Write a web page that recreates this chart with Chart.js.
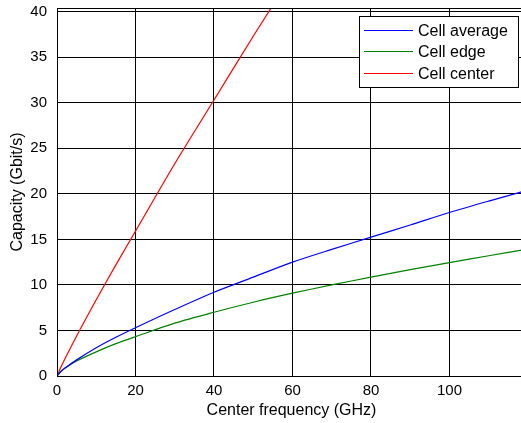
<!DOCTYPE html>
<html>
<head>
<meta charset="utf-8">
<script src="https://cdn.jsdelivr.net/npm/chart.js@4.4.1/dist/chart.umd.min.js"></script>
<style>
  html, body { margin: 0; padding: 0; background: #fff; overflow: hidden; }
  #wrap { width: 530px; height: 423px; position: relative; }
</style>
</head>
<body>
<div id="wrap"><canvas id="capacityChart"></canvas></div>
<script>
// values
const freqGHz     = [0, 1, 2, 5, 10, 15, 20, 30, 40, 50, 60, 70, 80, 90, 100, 110, 120];
const cellAverage = [0, 0.49, 0.86, 1.77, 3.1, 4.25, 5.3, 7.3, 9.2, 10.85, 12.5, 13.9, 15.24, 16.58, 17.95, 19.2, 20.4];
const cellEdge    = [0, 0.54, 0.87, 1.65, 2.65, 3.55, 4.32, 5.8, 7.0, 8.1, 9.09, 10.0, 10.85, 11.67, 12.45, 13.2, 13.95];
const cellCenter  = [0, 0.98, 1.87, 4.4, 8.37, 12.2, 15.9, 23.3, 30.3, 37.3, 44.1, null, null, null, null, null, null];
const seriesLabels = ["Cell average", "Cell edge", "Cell center"];
const seriesColors = ["#0000ff", "#008000", "#ff0000"];

const FONT = "'Liberation Sans', Arial, Helvetica, sans-serif";
const toPoints = (ys) => freqGHz.map((x, i) => ({ x: x, y: ys[i] }));

// axes box + legend drawn inside the plot, like the original
const boxPlugin = {
  id: "boxAndLegend",
  afterDatasetsDraw(chart) {
    const { ctx, chartArea: a } = chart;
    ctx.save();
    ctx.strokeStyle = "#000";
    ctx.lineWidth = 1;
    ctx.strokeRect(Math.round(a.left) + 0.5, Math.round(a.top) + 0.5,
      Math.round(a.right - a.left), Math.round(a.bottom - a.top));

    const bx = 359.5, by = Math.round(a.top) + 8.5, bw = 159, bh = 71;
    ctx.fillStyle = "#fff";
    ctx.fillRect(bx, by, bw, bh);
    ctx.strokeStyle = "#000";
    ctx.strokeRect(bx, by, bw, bh);
    ctx.font = "16px " + FONT;
    ctx.textBaseline = "middle";
    ctx.textAlign = "left";
    seriesLabels.forEach((label, i) => {
      const y = Math.round(by + 13 + i * 21.8) + 0.5;
      ctx.strokeStyle = seriesColors[i];
      ctx.lineWidth = 1.2;
      ctx.beginPath();
      ctx.moveTo(364, y);
      ctx.lineTo(413, y);
      ctx.stroke();
      ctx.fillStyle = "#000";
      ctx.fillText(label, 418, y + 1);
    });
    ctx.restore();
  }
};

const ctx = document.getElementById("capacityChart").getContext("2d");
new Chart(ctx, {
  type: "line",
  data: {
    datasets: [
      { label: seriesLabels[0], data: toPoints(cellAverage), borderColor: seriesColors[0] },
      { label: seriesLabels[1], data: toPoints(cellEdge), borderColor: seriesColors[1] },
      { label: seriesLabels[2], data: toPoints(cellCenter), borderColor: seriesColors[2] }
    ]
  },
  options: {
    responsive: true,
    maintainAspectRatio: false,
    animation: false,
    layout: { padding: { top: 8, right: 4, left: 0, bottom: 0 } },
    elements: {
      line: { borderWidth: 1.2, tension: 0.3, fill: false },
      point: { radius: 0 }
    },
    datasets: { line: { clip: 0 } },
    plugins: {
      legend: { display: false },
      tooltip: { enabled: false }
    },
    scales: {
      x: {
        type: "linear",
        min: 0,
        max: 119.5,
        grid: { color: "#000", lineWidth: 1, drawTicks: false },
        border: { display: false },
        ticks: {
          stepSize: 20,
          includeBounds: false,
          padding: 6,
          color: "#000",
          font: { family: FONT, size: 15 }
        },
        title: {
          display: true,
          text: "Center frequency (GHz)",
          color: "#000",
          font: { family: FONT, size: 16 },
          padding: { top: 0, bottom: 3 }
        },
        afterFit: (scale) => { scale.height = 47; scale.paddingRight = 0; }
      },
      y: {
        min: 0,
        max: 40.4,
        grid: { color: "#000", lineWidth: 1, drawTicks: false },
        border: { display: false },
        ticks: {
          stepSize: 5,
          includeBounds: false,
          padding: 10,
          color: "#000",
          font: { family: FONT, size: 15 }
        },
        title: {
          display: true,
          text: "Capacity (Gbit/s)",
          color: "#000",
          font: { family: FONT, size: 16 },
          padding: { top: 8, bottom: 0 }
        },
        afterFit: (scale) => { scale.width = 57; scale.paddingTop = 0; scale.paddingBottom = 0; }
      }
    }
  },
  plugins: [boxPlugin]
});
</script>
</body>
</html>
